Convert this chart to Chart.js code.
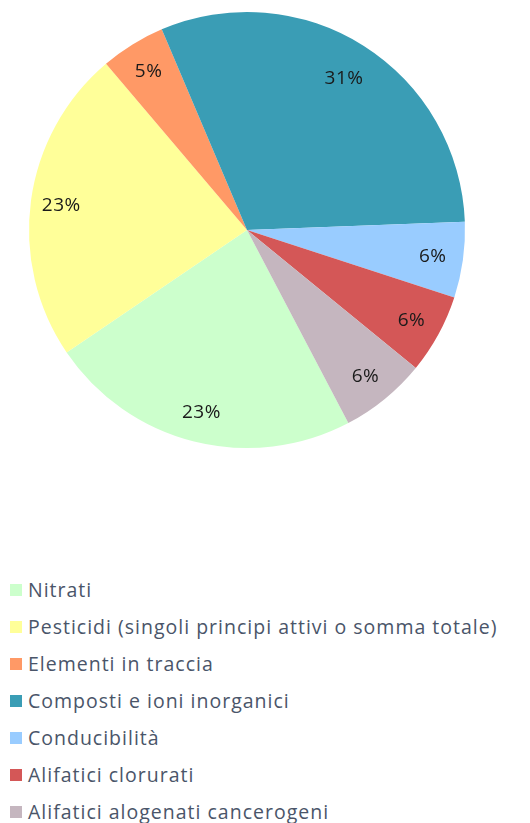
<!DOCTYPE html>
<html><head><meta charset="utf-8">
<script src="https://cdn.jsdelivr.net/npm/chart.js@4"></script>
<style>
html,body{margin:0;padding:0;background:#fff;overflow:hidden;}
#wrap{position:absolute;left:0;top:0;width:494px;height:460px;}
#legend{position:absolute;left:0;top:571px;width:530px;font-family:"Open Sans",sans-serif;font-size:19.5px;letter-spacing:1px;color:#4a5569;}
.row{height:37px;line-height:37px;position:relative;white-space:nowrap;}
.box{position:absolute;left:10px;top:13px;width:12px;height:12px;}
.txt{position:absolute;left:28px;top:0;}
</style></head>
<body>
<div id="wrap"><canvas id="c" width="494" height="460"></canvas></div>
<div id="legend"></div>
<script>
const categories = ["Nitrati","Pesticidi (singoli principi attivi o somma totale)","Elementi in traccia","Composti e ioni inorganici","Conducibilità","Alifatici clorurati","Alifatici alogenati cancerogeni"];
const values = [23.2, 23.3, 4.8, 30.8, 5.6, 5.9, 6.4];
const colors = ["#CCFFCC","#FFFF99","#FF9966","#3A9DB5","#99CCFF","#D45757","#C5B6BF"];

const labelPlugin = {
  id:'pctLabels',
  afterDatasetsDraw(chart){
    const ctx = chart.ctx;
    const meta = chart.getDatasetMeta(0);
    const data = chart.data.datasets[0].data;
    const total = data.reduce((a,b)=>a+b,0);
    ctx.save();
    ctx.font = '19px "Open Sans", sans-serif';
    if ('letterSpacing' in ctx) ctx.letterSpacing = '0.5px';
    ctx.fillStyle = '#1a1a1a';
    ctx.textAlign = 'center';
    ctx.textBaseline = 'middle';
    meta.data.forEach((arc,i)=>{
      const p = arc.getProps(['x','y','startAngle','endAngle','outerRadius'],true);
      const mid = (p.startAngle+p.endAngle)/2;
      const frac = data[i]/total > 0.25 ? 0.83 : 0.86;
      const r = p.outerRadius*frac;
      const txt = Math.round(data[i]/total*100)+'%';
      ctx.fillText(txt, p.x+Math.cos(mid)*r, p.y+Math.sin(mid)*r + 1);
    });
    ctx.restore();
  }
};

new Chart(document.getElementById('c'),{
  type:'pie',
  data:{labels:categories,datasets:[{data:values,backgroundColor:colors,borderWidth:0}]},
  options:{
    responsive:false,animation:false,
    rotation:152.3,
    layout:{padding:{top:12,bottom:12,left:0,right:0}},
    plugins:{legend:{display:false},tooltip:{enabled:false}}
  },
  plugins:[labelPlugin]
});

const lg = document.getElementById('legend');
categories.forEach((c,i)=>{
  const row=document.createElement('div');row.className='row';
  const b=document.createElement('span');b.className='box';b.style.background=colors[i];
  const t=document.createElement('span');t.className='txt';t.textContent=c;
  row.appendChild(b);row.appendChild(t);lg.appendChild(row);
});
</script>
</body></html>
